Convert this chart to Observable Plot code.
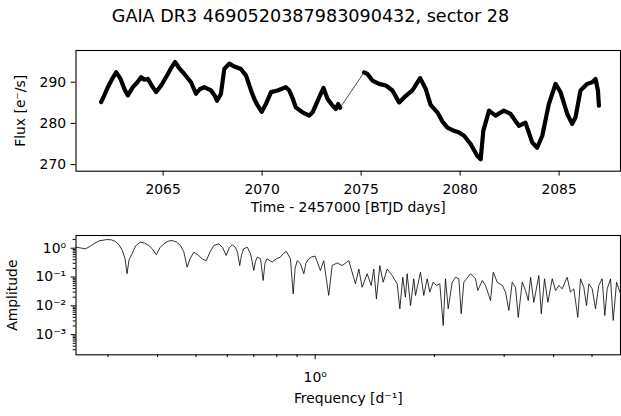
<!DOCTYPE html>
<html>
<head>
<meta charset="utf-8">
<script src="https://cdn.jsdelivr.net/npm/d3@7"></script>
<script src="https://cdn.jsdelivr.net/npm/@observablehq/plot@0.6"></script>
<style>
  body { margin: 0; background: #fff; }
  #fig { position: relative; width: 621px; height: 416px; font-family: "DejaVu Sans", sans-serif; color: #000; }
  #title { position: absolute; left: 0; top: 6px; width: 621px; text-align: center; font-size: 17.6px; line-height: 20px; }
  #lc { position: absolute; left: 0; top: 30px; }
  #pg { position: absolute; left: 0; top: 225px; }
</style>
</head>
<body>
<div id="fig">
  <div id="title">GAIA DR3 4690520387983090432, sector 28</div>
  <div id="lc"></div>
  <div id="pg"></div>
</div>
<script>
// Light curve, first orbit (BTJD days, e-/s)
const orbit1Time = [2061.87, 2062.0, 2062.21, 2062.45, 2062.63, 2062.85, 2063.05, 2063.22, 2063.47, 2063.7,
  2063.89, 2064.05, 2064.23, 2064.45, 2064.65, 2064.9, 2065.24, 2065.45, 2065.6, 2065.8,
  2066.07, 2066.41, 2066.66, 2066.85, 2067.08, 2067.42, 2067.6, 2067.72, 2067.92, 2068.09,
  2068.34, 2068.6, 2068.93, 2069.19, 2069.44, 2069.6, 2069.78, 2069.98, 2070.19, 2070.45,
  2070.78, 2071.0, 2071.2, 2071.37, 2071.55, 2071.7, 2072.04, 2072.38, 2072.55, 2072.88,
  2073.1, 2073.3, 2073.56, 2073.72, 2073.84, 2073.94];
const orbit1Flux = [285.2, 286.5, 288.8, 291.0, 292.4, 290.8, 288.3, 286.8, 288.8, 290.0,
  291.2, 290.6, 290.8, 289.0, 287.6, 289.2, 292.0, 293.8, 294.9, 293.5,
  292.0, 290.0, 287.2, 288.3, 288.8, 288.0, 286.8, 285.5, 287.2, 293.2,
  294.5, 293.8, 293.2, 291.6, 288.0, 286.0, 284.3, 282.8, 284.7, 287.6,
  288.0, 288.4, 288.8, 288.0, 286.0, 283.9, 282.7, 281.9, 282.7, 286.3,
  288.6, 286.0, 284.3, 283.5, 284.7, 283.8];

// Light curve, second orbit
const orbit2Time = [2075.15, 2075.32, 2075.57, 2075.91, 2076.25, 2076.58, 2076.92, 2077.17, 2077.59, 2077.98,
  2078.26, 2078.51, 2078.85, 2079.1, 2079.36, 2079.69, 2079.95, 2080.2, 2080.53, 2080.87,
  2081.04, 2081.17, 2081.46, 2081.79, 2082.21, 2082.55, 2082.97, 2083.3, 2083.64, 2083.89,
  2084.15, 2084.48, 2084.82, 2085.07, 2085.41, 2085.66, 2085.83, 2086.08, 2086.42, 2086.67,
  2086.84, 2086.96, 2087.01];
const orbit2Flux = [292.4, 292.0, 290.4, 289.6, 289.2, 288.0, 285.1, 286.3, 288.0, 291.0,
  288.4, 284.5, 282.7, 280.5, 279.0, 278.2, 277.8, 277.0, 275.0, 272.1,
  271.3, 278.2, 283.1, 281.9, 283.1, 282.3, 279.4, 280.2, 275.4, 274.1,
  277.0, 284.7, 289.6, 287.6, 282.3, 279.9, 281.5, 288.0, 289.6, 290.0,
  290.8, 288.0, 284.3];

// Amplitude spectrum (frequency in 1/d)
const frequency = [0.249,0.256,0.263,0.270,0.276,0.285,0.298,0.306,0.313,0.320,0.326,0.331,0.335,0.339,0.345,0.352,0.362,0.371,0.380,0.388,
  0.397,0.406,0.415,0.425,0.435,0.446,0.457,0.466,0.475,0.484,0.494,0.508,0.519,0.531,0.543,0.555,0.571,0.584,
  0.596,0.607,0.617,0.629,0.637,0.645,0.652,0.660,0.674,0.687,0.700,0.707,0.714,0.728,
  0.739,0.747,0.756,0.779,0.798,0.817,0.831,0.846,0.866,0.880,0.890,0.901,0.918,
  0.936,0.948,0.963,0.980,1.000,1.031,1.051,1.082,1.104,1.137,1.170,1.216,
  1.264,1.289,1.314,1.353,1.385,1.406,1.428,1.456,1.485,1.520,
  1.565,1.611,1.636,1.664,1.690,1.707,1.741,1.774,1.792,1.845,
  1.880,1.918,1.947,1.986,2.025,2.064,2.105,2.133,2.167,2.218,
  2.262,2.305,2.337,2.373,2.467,2.540,2.574,2.641,2.692,2.772,
  2.815,2.882,2.967,3.024,3.083,3.144,3.205,3.256,3.333,3.397,
  3.451,3.498,3.565,3.670,3.722,3.794,3.868,3.968,4.045,4.123,
  4.205,4.327,4.411,4.498,4.603,4.677,4.767,4.842,4.907,5.005,
  5.102,5.201,5.304,5.385,5.461,5.567,5.655,5.767,5.878];
const amplitude = [1.08,1.02,0.95,1.15,1.42,1.8,2.0,1.95,1.71,1.3,0.83,0.45,0.13,0.4,0.64,1.2,1.62,1.5,1.24,0.95,
  0.59,1.05,1.42,1.75,1.85,1.65,1.24,0.75,0.22,0.45,0.73,0.56,0.42,0.37,0.75,1.24,1.42,1.05,
  0.56,1.05,1.31,1.08,0.7,0.25,0.6,0.95,1.08,0.64,0.168,0.35,0.49,0.43,
  0.076,0.3,0.43,0.33,0.43,0.49,0.65,0.77,0.43,0.026,0.2,0.37,0.29,
  0.13,0.3,0.43,0.5,0.53,0.168,0.37,0.023,0.25,0.31,0.25,0.37,
  0.058,0.19,0.044,0.13,0.051,0.19,0.0175,0.25,0.066,0.19,
  0.113,0.058,0.0079,0.098,0.020,0.13,0.0102,0.087,0.023,0.147,
  0.023,0.087,0.030,0.066,0.051,0.058,0.00207,0.087,0.0079,0.066,
  0.098,0.087,0.0053,0.066,0.13,0.087,0.034,0.0756,0.051,0.0153,
  0.147,0.066,0.051,0.030,0.0069,0.066,0.044,0.0040,0.066,0.034,
  0.0153,0.098,0.0133,0.113,0.0053,0.087,0.0133,0.087,0.034,0.051,
  0.039,0.098,0.030,0.039,0.0040,0.087,0.044,0.0102,0.058,0.039,
  0.0079,0.051,0.087,0.0046,0.039,0.087,0.0031,0.066,0.030];

// Ticks
const timeTicks = [2065, 2070, 2075, 2080, 2085];
const fluxTicks = [270, 280, 290];
const freqMajorTicks = [1];
const freqMinorTicks = [0.3, 0.4, 0.5, 0.6, 0.7, 0.8, 0.9, 2, 3, 4, 5];
const ampMajorTicks = [1, 0.1, 0.01, 0.001];
const ampMajorLabels = ["10\u2070", "10\u207B\u00B9", "10\u207B\u00B2", "10\u207B\u00B3"];

const ampDomain = [2.0e-4, 2.76];
const ampMinorTicks = [];
for (let e = -4; e <= 0; e++) {
  for (let m = 2; m <= 9; m++) {
    const v = m * Math.pow(10, e);
    if (v > ampDomain[0] * 1.001 && v < ampDomain[1]) ampMinorTicks.push(v);
  }
}

const lcRows = [
  ...orbit1Time.map((t, i) => ({t, f: orbit1Flux[i], orbit: 1})),
  ...orbit2Time.map((t, i) => ({t, f: orbit2Flux[i], orbit: 2}))
];
// thin segment bridging the data gap between the two orbits
const gapRows = [
  {t: orbit1Time[orbit1Time.length - 1], f: orbit1Flux[orbit1Flux.length - 1]},
  {t: orbit2Time[0], f: orbit2Flux[0]}
];
const pgRows = frequency.map((f, i) => ({f, a: amplitude[i]}));

const baseStyle = {fontFamily: "DejaVu Sans, sans-serif", fontSize: "13.9px", background: "transparent", color: "black", overflow: "visible"};

const lcPlot = Plot.plot({
  width: 621, height: 195,
  marginTop: 20, marginBottom: 54.3, marginLeft: 75.5, marginRight: 1,
  style: baseStyle,
  x: {domain: [2060.6, 2088.1], label: null},
  y: {domain: [268.4, 297.7], label: null},
  marks: [
    Plot.line(gapRows, {x: "t", y: "f", stroke: "black", strokeWidth: 0.7}),
    Plot.line(lcRows, {x: "t", y: "f", z: "orbit", stroke: "black", strokeWidth: 4.2, strokeLinejoin: "round", strokeLinecap: "round"}),
    Plot.frame({stroke: "black", strokeWidth: 1.1}),
    Plot.axisX(timeTicks, {label: null, tickSize: 4.9, tickPadding: 8.5, tickFormat: d => String(d)}),
    Plot.axisY(fluxTicks, {label: null, tickSize: 4.9, tickPadding: 5, tickFormat: d => String(d)}),
    Plot.text(["Time - 2457000 [BTJD days]"], {frameAnchor: "bottom", dy: 41, fill: "black"}),
    Plot.text(["Flux [e\u207B/s]"], {frameAnchor: "left", dx: -55, rotate: -90, textAnchor: "middle", fill: "black"})
  ]
});
document.getElementById("lc").append(lcPlot);

const pgPlot = Plot.plot({
  width: 621, height: 191,
  marginTop: 10, marginBottom: 61.7, marginLeft: 75.5, marginRight: 1,
  style: baseStyle,
  x: {type: "log", domain: [0.249, 5.9], label: null},
  y: {type: "log", domain: ampDomain, label: null},
  marks: [
    Plot.line(pgRows, {x: "f", y: "a", stroke: "black", strokeWidth: 0.8}),
    Plot.frame({stroke: "black", strokeWidth: 1.1}),
    Plot.axisX(freqMajorTicks, {label: null, tickSize: 4.9, tickPadding: 12, tickFormat: () => "10\u2070"}),
    Plot.axisX(freqMinorTicks, {label: null, tickSize: 2.8, tickFormat: () => ""}),
    Plot.axisY(ampMajorTicks, {label: null, tickSize: 4.9, tickPadding: 5, tickFormat: d => ampMajorLabels[ampMajorTicks.indexOf(d)]}),
    Plot.axisY(ampMinorTicks, {label: null, tickSize: 2.8, tickFormat: () => ""}),
    Plot.text(["Frequency [d\u207B\u00B9]"], {frameAnchor: "bottom", dy: 48, fill: "black"}),
    Plot.text(["Amplitude"], {frameAnchor: "left", dx: -63.4, rotate: -90, textAnchor: "middle", fill: "black"})
  ]
});
document.getElementById("pg").append(pgPlot);
</script>
</body>
</html>
